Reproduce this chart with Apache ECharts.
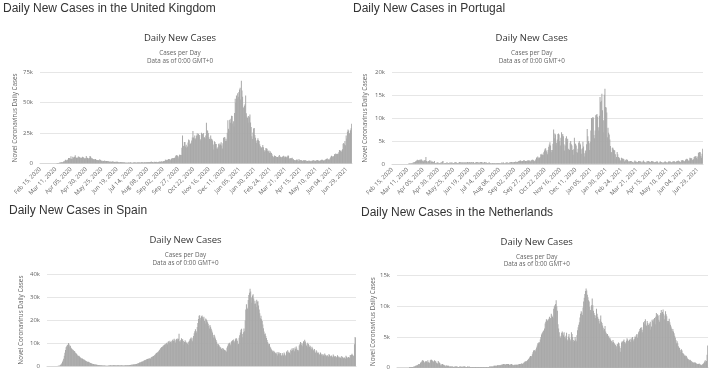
<!DOCTYPE html>
<html><head><meta charset="utf-8">
<script src="https://cdn.jsdelivr.net/npm/echarts/dist/echarts.min.js"></script>
<style>html,body{margin:0;padding:0;background:#fff}#c{width:713px;height:371px}</style>
</head><body><div id="c"></div>
<script>
// Daily new cases, in thousands, one value per day starting Feb 15, 2020
const ukCasesK = [
0,0,0,0,0,0,0, 0,0,0,0,0,0,0, 0,0,0,0.1,0.1,0.1,0.1, 0.1,0.1,0.1,0.1,0.1,0.1,0.2,
0.3,0.2,0.3,0.4,0.7,0.6,0.7, 1.0,0.7,1.0,1.4,1.5,2.1,2.9, 2.5,2.4,3.0,3.0,4.3,4.2,4.4, 3.7,5.9,3.8,3.6,5.5,4.3,5.2,
5.3,6.6,4.9,4.3,4.6,4.6,5.6, 5.5,5.0,4.7,4.3,4.5,4.6,5.4, 4.9,4.5,3.9,4.2,4.1,6.0,4.8, 4.3,4.0,3.9,4.4,6.1,5.6,4.6,
3.9,3.9,3.4,3.4,3.2,3.4,3.5, 3.0,2.7,2.7,2.4,2.5,2.6,3.3, 2.8,2.4,2.0,1.6,2.0,1.9,1.9, 2.4,1.9,1.6,1.9,1.9,1.8,1.6,
1.5,1.3,1.2,1.4,1.0,1.5,1.4, 1.5,1.0,1.1,1.3,1.1,1.2,1.3, 1.3,1.0,0.9,0.9,0.7,1.1,1.0, 0.9,0.8,0.7,0.8,0.8,0.6,0.5,
0.6,0.5,0.4,0.6,0.6,0.5,0.6, 0.8,0.6,0.5,0.5,0.5,0.6,0.7, 0.8,0.7,0.6,0.4,0.6,0.8,0.7, 0.8,0.7,0.6,0.6,0.8,0.8,0.9,
0.7,0.7,0.9,0.7,0.9,0.9,0.9, 0.8,1.1,0.9,0.9,1.1,1.0,1.4, 1.1,1.0,0.7,0.8,1.2,1.0,1.1, 1.3,1.1,0.9,0.8,1.0,1.5,1.3,
1.1,1.7,1.4,1.3,1.5,1.7,1.9, 1.8,3.0,2.9,2.5,2.7,3.0,3.5, 3.5,3.3,2.6,3.1,4.0,3.4,4.3, 4.4,3.9,4.4,4.9,6.2,6.6,6.9,
6.0,5.7,4.0,7.1,7.1,6.9,6.9, 12.9,22.9,14.5,14.2,17.5,17.5,13.9, 15.2,12.9,13.9,17.2,19.7,18.9,15.7, 16.2,16.9,18.8,21.3,26.7,21.2,20.5,
23.0,19.8,20.9,22.9,24.7,23.1,24.4, 21.9,23.3,18.9,20.0,25.2,24.1,24.0, 24.9,21.0,21.4,20.4,22.9,33.5,27.3, 26.9,24.9,21.4,20.1,19.6,22.9,20.3,
19.9,18.7,15.5,11.3,18.2,17.6,16.0, 15.9,12.3,12.3,13.4,16.2,14.9,16.3, 15.5,17.3,14.7,12.3,16.6,20.9,21.6, 21.5,18.4,20.3,18.5,25.2,35.4,28.5,
27.1,35.9,33.4,36.8,39.2,39.0,32.7, 34.7,30.5,41.4,53.1,50.0,55.9,53.3, 57.7,54.9,58.8,60.9,62.3,52.6,68.1, 59.9,54.9,46.2,45.5,47.5,48.7,55.8,
41.3,38.6,37.5,33.4,38.9,37.9,40.3, 33.6,30.0,22.2,20.1,25.3,28.7,29.1, 23.3,21.1,18.6,16.8,19.2,20.6,19.1, 18.3,15.8,14.1,12.4,13.0,13.5,15.1,
13.3,10.9,9.8,10.6,12.7,12.1,12.0, 10.4,9.8,10.6,8.5,9.9,9.0,8.5, 7.4,6.0,5.5,4.7,6.4,6.0,6.1, 5.2,5.2,5.1,4.7,5.8,6.8,5.5,
5.5,4.6,5.1,5.3,5.8,6.3,4.8, 5.6,5.3,5.4,4.7,5.6,6.4,6.2, 3.9,3.9,4.1,4.1,4.1,4.5,3.4, 3.4,2.3,2.8,2.4,2.6,3.0,3.2,
2.6,1.7,3.6,2.5,2.6,2.7,2.6, 2.2,1.9,2.5,2.5,2.4,2.7,2.3, 2.0,1.7,1.9,2.1,2.2,2.2,2.0, 1.6,1.6,2.0,2.1,2.6,2.5,2.0,
2.0,1.8,2.4,2.5,2.7,2.6,2.2, 2.0,1.9,2.4,2.7,2.9,3.0,2.7, 2.2,2.4,2.5,3.2,3.2,3.5,4.2, 3.4,3.2,3.2,3.2,4.3,5.3,6.2,
5.8,5.3,5.7,6.0,7.5,7.4,8.1, 7.7,7.5,7.8,7.6,9.1,11.0,10.5, 10.3,9.3,10.6,11.6,16.1,16.7,15.8, 18.3,14.9,22.9,20.5,26.1,27.9,27.1,
24.9,24.2,27.3,28.8,32.5
];
const portugalCasesK = [
0,0,0,0,0,0,0, 0,0,0,0,0,0,0, 0,0,0,0,0,0,0, 0,0,0,0,0,0,0.1,
0.1,0.1,0.1,0.1,0.2,0.1,0.3, 0.3,0.4,0.3,0.5,0.6,0.7,0.9, 0.7,0.8,0.8,0.9,0.8,1.0,0.9, 0.6,0.7,0.5,0.7,0.8,0.8,1.5,
0.6,0.5,0.3,0.6,0.5,0.8,0.2, 0.7,0.5,0.4,0.5,0.4,0.4,0.6, 0.2,0.2,0.2,0.3,0.3,0.3,0.2, 0.2,0.1,0.2,0.4,0.2,0.5,0.6,
0.1,0.2,0.2,0.2,0.2,0.3,0.3, 0.2,0.2,0.2,0.3,0.3,0.2,0.3, 0.3,0.2,0.2,0.2,0.3,0.4,0.3, 0.3,0.2,0.2,0.2,0.3,0.4,0.4,
0.3,0.3,0.3,0.3,0.3,0.3,0.3, 0.3,0.3,0.3,0.3,0.4,0.3,0.3, 0.4,0.3,0.3,0.3,0.4,0.3,0.3, 0.4,0.2,0.2,0.3,0.3,0.4,0.4,
0.3,0.3,0.2,0.3,0.4,0.4,0.4, 0.3,0.3,0.2,0.3,0.4,0.3,0.3, 0.3,0.2,0.2,0.2,0.3,0.3,0.2, 0.2,0.1,0.2,0.2,0.2,0.2,0.2,
0.2,0.1,0.2,0.2,0.2,0.2,0.2, 0.2,0.2,0.1,0.2,0.3,0.2,0.3, 0.3,0.2,0.1,0.2,0.3,0.3,0.3, 0.3,0.2,0.2,0.3,0.4,0.3,0.4,
0.4,0.3,0.3,0.4,0.4,0.4,0.5, 0.4,0.3,0.4,0.5,0.6,0.6,0.7, 0.7,0.5,0.6,0.6,0.6,0.8,0.8, 0.6,0.6,0.6,0.6,0.7,0.7,0.7,
0.8,0.6,0.5,0.7,0.8,0.9,0.9, 0.8,0.4,0.6,0.8,1.0,1.4,1.2, 1.6,1.4,1.0,1.3,1.5,2.1,2.0, 2.2,1.9,1.9,2.5,2.9,3.3,3.4,
2.9,2.5,2.1,3.0,3.7,4.2,4.7, 4.0,3.0,2.5,3.0,4.4,7.5,5.6, 6.6,6.4,4.0,4.6,5.3,6.5,6.6, 6.4,5.0,4.0,5.7,6.9,6.2,6.5,
6.0,4.3,2.9,4.0,5.6,6.0,5.0, 5.5,3.3,3.1,3.0,4.6,5.0,4.3, 4.0,3.0,2.0,3.2,5.7,4.4,4.4, 4.0,2.6,2.4,3.3,4.6,5.0,4.5,
4.2,3.2,2.2,3.4,4.8,3.8,2.3, 1.6,2.9,2.4,4.3,7.6,6.0,5.0, 4.5,3.0,4.8,7.3,10.0,9.9,10.2, 10.1,6.3,5.6,7.3,10.6,10.7,10.9,
10.3,8.0,7.3,10.5,14.6,13.5,13.8, 15.3,11.7,6.9,9.5,15.1,16.4,12.4, 12.3,11.2,5.8,7.9,6.8,6.4,5.3, 3.9,2.6,2.5,3.5,3.5,3.1,3.0,
2.9,2.1,1.1,1.5,2.6,2.1,1.5, 1.4,1.2,0.7,0.7,1.3,1.2,1.1, 1.1,1.0,0.5,0.7,0.8,1.0,0.8, 0.9,0.6,0.4,0.5,0.6,0.6,0.6,
0.5,0.4,0.3,0.3,0.5,0.7,0.5, 0.5,0.4,0.4,0.3,0.6,0.5,0.6, 0.5,0.5,0.3,0.3,0.5,0.7,0.5, 0.4,0.3,0.3,0.3,0.6,0.5,0.6,
0.6,0.4,0.3,0.4,0.6,0.6,0.5, 0.5,0.4,0.3,0.4,0.4,0.5,0.5, 0.5,0.3,0.2,0.3,0.5,0.5,0.4, 0.4,0.3,0.2,0.3,0.4,0.5,0.5,
0.4,0.3,0.3,0.3,0.5,0.5,0.5, 0.5,0.4,0.3,0.4,0.5,0.5,0.6, 0.5,0.4,0.3,0.5,0.6,0.6,0.7, 0.6,0.5,0.3,0.4,0.7,0.8,0.8,
0.8,0.6,0.5,0.6,0.9,1.0,1.1, 1.0,0.8,0.6,0.7,1.3,1.2,1.2, 1.2,0.9,0.8,1.0,1.5,1.6,1.6, 1.7,1.3,1.0,1.6,2.4,2.4,2.6,
2.5,1.7,1.3,2.2,3.3
];
const spainCasesK = [
0,0,0,0,0,0,0, 0,0,0,0,0,0,0, 0,0,0,0,0.1,0.1,0.1, 0.3,0.5,0.8,1.2,1.8,2.4,3.1,
4.5,5.8,7.0,8.2,8.6,9.2,9.0, 10.0,9.4,8.5,8.8,7.9,7.6,7.3, 7.1,6.8,6.2,6.5,5.9,5.6,5.3, 5.0,4.6,4.3,4.5,4.1,3.8,3.6,
3.3,3.4,3.1,2.9,2.8,2.7,2.5, 2.3,2.2,2.0,1.9,1.7,1.8,1.6, 1.4,1.3,1.2,1.1,1.0,0.9,0.9, 0.8,0.7,0.6,0.6,0.5,0.5,0.4,
0.4,0.4,0.3,0.3,0.3,0.3,0.2, 0.2,0.2,0.2,0.2,0.2,0.1,0.1, 0.1,0.1,0.1,0.2,0.2,0.3,0.3, 0.3,0.2,0.2,0.3,0.3,0.3,0.3,
0.3,0.2,0.2,0.3,0.3,0.3,0.3, 0.2,0.2,0.3,0.3,0.3,0.2,0.2, 0.2,0.2,0.3,0.3,0.3,0.3,0.3, 0.3,0.3,0.4,0.4,0.4,0.5,0.5,
0.5,0.6,0.7,0.6,0.8,0.8,0.9, 0.9,1.0,1.1,1.2,1.3,1.5,1.5, 1.6,1.8,1.9,2.0,2.1,2.3,2.5, 2.4,2.6,2.8,2.9,3.0,3.1,3.2,
3.3,3.4,3.2,3.7,3.9,4.1,4.0, 4.3,4.5,4.8,5.1,5.4,5.6,5.9, 6.0,6.3,6.6,7.0,7.4,7.8,8.1, 8.3,8.5,8.8,9.0,9.3,9.1,9.6,
9.9,10.1,9.5,10.5,10.8,10.2,11.0, 10.4,9.8,10.8,11.2,11.5,10.9,11.8, 11.1,10.2,11.4,11.7,12.0,11.2,11.9, 14.0,10.8,10.6,11.3,12.1,11.5,11.6,
10.9,9.4,10.4,11.2,10.6,10.0,10.3, 9.7,9.1,10.5,11.0,11.6,12.0,12.4, 11.5,10.8,12.3,13.0,14.2,15.1,16.0, 15.2,14.6,17.0,18.7,20.4,21.8,22.1,
21.0,19.8,21.6,22.0,21.3,20.7,21.4, 19.6,18.5,20.6,20.2,19.8,19.0,18.4, 17.4,16.3,17.8,17.1,16.2,15.4,14.6, 13.5,12.4,13.6,12.8,12.0,11.3,10.5,
9.6,8.7,9.5,9.0,8.5,8.2,7.9, 7.4,6.9,7.8,7.5,7.2,7.0,6.8, 6.5,6.2,7.9,8.6,9.3,9.8,10.1, 9.6,9.0,10.4,10.9,11.2,10.6,11.5,
10.8,9.9,11.6,12.2,11.8,11.0,9.4, 9.6,12.3,13.4,14.6,15.8,16.2,13.9, 12.5,14.7,16.3,15.1,19.8,24.6,26.9, 25.3,24.8,28.7,30.9,31.8,33.6,32.4,
29.8,27.5,30.6,31.2,29.4,27.1,28.4, 27.2,25.6,28.8,27.9,28.2,26.3,24.6, 22.9,20.8,21.9,20.3,19.6,18.0,16.4, 15.0,13.8,14.1,13.0,12.2,11.3,10.4,
9.7,8.9,9.6,8.4,7.9,7.3,7.0, 6.4,5.9,6.6,6.2,5.8,5.5,5.9, 5.2,4.6,6.1,5.4,5.9,5.1,5.6, 4.8,4.3,5.7,5.0,4.6,5.9,5.4,
4.7,4.2,6.3,5.5,6.8,5.9,6.2, 5.6,5.0,7.1,6.5,7.6,6.9,7.8, 7.2,6.4,8.0,7.4,8.5,7.6,7.0, 6.2,6.8,8.9,9.5,10.4,10.1,9.2,
8.6,9.8,10.8,10.2,11.4,10.6,9.7, 8.9,8.2,10.1,9.6,9.0,8.3,8.8, 8.0,7.3,8.4,7.7,7.1,6.6,7.4, 6.2,5.6,6.9,6.3,5.8,5.4,5.9,
5.1,4.8,5.9,5.3,4.9,4.6,5.2, 4.7,4.3,5.4,4.9,4.5,4.2,4.8, 4.4,4.0,5.2,4.8,4.3,4.0,4.6, 4.1,3.8,5.0,4.5,4.1,3.8,4.3,
3.9,3.5,4.7,4.2,3.8,3.6,4.0, 3.6,3.3,4.4,3.9,3.6,3.4,3.8, 3.5,3.1,4.5,4.0,3.7,3.4,3.9, 3.7,3.6,4.8,4.6,4.9,5.3,4.8,
4.5,4.2,9.5,12.6,12.3
];
const netherlandsCasesK = [
0,0,0,0,0,0,0, 0,0,0,0,0,0,0, 0,0,0,0,0,0,0.1, 0.1,0.1,0.1,0.1,0.1,0.1,0.2,
0.2,0.2,0.3,0.3,0.4,0.4,0.5, 0.6,0.6,0.5,0.8,0.9,1.0,1.2, 1.2,1.1,0.9,0.8,1.0,1.1,1.0, 0.9,1.2,0.9,0.8,0.8,1.2,1.3,
1.3,1.2,1.1,1.0,0.9,1.2,1.1, 1.0,0.8,0.7,0.7,1.1,0.9,0.8, 0.7,0.4,0.4,0.6,0.6,0.5,0.5, 0.4,0.3,0.2,0.4,0.3,0.3,0.3,
0.3,0.2,0.2,0.2,0.2,0.2,0.2, 0.2,0.1,0.1,0.2,0.2,0.2,0.2, 0.2,0.1,0.1,0.1,0.2,0.2,0.2, 0.1,0.2,0.1,0.2,0.2,0.2,0.2,
0.1,0.1,0.1,0.2,0.2,0.1,0.2, 0.1,0.1,0.1,0.1,0.1,0.1,0.1, 0.1,0.1,0.1,0.1,0.1,0.1,0.1, 0.1,0.1,0.1,0.1,0.1,0.1,0.1,
0.1,0.1,0.1,0.1,0.1,0.1,0.1, 0.1,0.1,0.1,0.1,0.2,0.2,0.2, 0.2,0.2,0.2,0.2,0.3,0.3,0.3, 0.3,0.3,0.3,0.4,0.4,0.4,0.4,
0.4,0.4,0.5,0.5,0.5,0.6,0.6, 0.6,0.5,0.5,0.6,0.6,0.6,0.6, 0.6,0.5,0.5,0.5,0.6,0.6,0.5, 0.5,0.4,0.4,0.5,0.5,0.5,0.5,
0.5,0.5,0.5,0.6,0.6,0.6,0.6, 0.7,0.7,0.6,0.7,0.8,0.9,1.0, 1.0,1.1,1.0,1.2,1.3,1.4,1.6, 1.8,1.9,1.7,1.9,2.2,2.5,2.8,
2.8,2.9,2.7,3.0,3.3,3.6,4.0, 4.0,4.2,4.1,4.6,5.0,5.4,5.6, 5.8,6.0,6.1,6.4,7.2,7.5,7.9, 7.8,7.6,7.8,8.0,8.3,8.0,8.1,
8.8,8.5,8.3,8.1,9.6,10.0,10.2, 10.4,11.0,10.0,9.3,7.1,6.4,5.8, 5.1,4.9,5.2,5.7,5.9,5.6,5.3, 5.8,5.0,4.8,5.2,5.7,4.6,4.4,
5.1,5.5,4.9,4.6,4.3,5.8,5.5, 5.0,4.5,4.2,4.4,5.0,4.6,4.3, 5.3,6.1,6.6,7.0,7.4,8.2,8.8, 9.2,9.0,8.6,9.8,10.8,11.4,12.0,
12.5,12.9,12.6,11.9,11.5,11.0,10.8, 9.9,9.4,9.0,10.2,11.3,10.2,9.3, 8.9,8.6,8.1,8.5,9.6,8.8,8.3, 8.0,7.6,7.2,7.9,8.5,7.5,7.3,
6.9,6.5,6.1,6.3,6.8,5.9,5.6, 5.4,5.5,5.0,5.2,4.8,4.9,4.6, 4.4,4.3,4.1,4.5,4.2,4.0,3.9, 3.7,3.0,3.5,3.9,3.8,4.1,4.0,
3.5,2.6,3.2,4.1,4.3,4.2,4.4, 4.6,4.2,3.9,4.1,4.4,4.8,4.6, 4.3,4.4,4.5,4.7,4.2,4.6,4.9, 5.0,4.6,4.3,4.7,5.1,5.0,5.3,
5.5,4.9,5.4,5.8,6.0,6.3,6.5, 6.2,6.6,5.8,6.2,7.4,7.1,7.6, 7.9,7.0,6.8,7.6,7.3,7.0,6.7, 7.2,7.5,6.2,6.7,7.8,7.6,7.9,
7.4,8.1,7.1,8.3,8.9,8.4,8.7, 8.5,7.8,7.5,8.6,8.9,9.4,8.8, 9.1,9.5,8.8,7.9,8.5,9.2,8.7, 8.4,7.6,7.2,7.6,8.0,7.4,7.0,
6.7,6.4,6.0,6.3,5.9,5.6,5.2, 4.9,4.5,4.0,4.3,4.0,3.5,3.3, 3.2,2.9,2.6,3.0,2.8,2.4,2.3, 2.2,2.0,1.8,2.0,1.9,1.7,1.5,
1.4,1.3,1.2,1.3,1.2,1.1,1.0, 0.9,0.9,0.8,0.8,0.9,0.8,0.7, 0.7,0.6,0.6,0.6,0.7,0.6,0.5, 0.5,0.4,0.5,0.6,0.7,0.8,1.0,
1.2,0.9,1.1,2.1,3.6
];
const countryNames = ['the United Kingdom', 'Portugal', 'Spain', 'the Netherlands'];
const yMaxK = [75, 20, 40, 15];
const yStepK = [25, 5, 10, 5];
const monthNames = ['Jan','Feb','Mar','Apr','May','Jun','Jul','Aug','Sep','Oct','Nov','Dec'];

const dayCount = ukCasesK.length;
const categories = [];
for (let i = 0; i < dayCount; i++) {
  const d = new Date(Date.UTC(2020, 1, 15 + i));
  categories.push(monthNames[d.getUTCMonth()] + ' ' + String(d.getUTCDate()).padStart(2, '0') + ', ' + d.getUTCFullYear());
}
const seriesData = [ukCasesK, portugalCasesK, spainCasesK, netherlandsCasesK];

// layout per panel
const layout = [
  {bigX: 3,   bigY: 2.5, cx: 180,   tY: 33.3,  sY: 49.5,  grid: {left: 40,  top: 72.3, width: 312, height: 91}, nameGap: 22, showX: true},
  {bigX: 353, bigY: 2.5, cx: 531.7, tY: 33.3,  sY: 49.5,  grid: {left: 392, top: 72.3, width: 311, height: 91.5}, nameGap: 24, showX: true},
  {bigX: 9,   bigY: 204.5, cx: 185.5, tY: 234.8, sY: 251.2, grid: {left: 47,  top: 274, width: 309, height: 92}, nameGap: 23, showX: false},
  {bigX: 361, bigY: 206.5, cx: 536.7, tY: 237.3, sY: 252.9, grid: {left: 397, top: 275.7, width: 311, height: 92}, nameGap: 18, showX: false}
];

const titles = [], grids = [], xAxes = [], yAxes = [], series = [];
layout.forEach((p, i) => {
  titles.push({text: 'Daily New Cases in ' + countryNames[i], left: p.bigX, top: p.bigY, padding: 0,
    textStyle: {fontFamily: 'Liberation Sans', fontSize: 12, fontWeight: 'normal', color: '#333'}});
  titles.push({text: 'Daily New Cases', left: p.cx, top: p.tY, padding: 0, textAlign: 'center',
    textStyle: {fontFamily: 'Open Sans', fontSize: 9.5, fontWeight: 'normal', color: '#333'}});
  titles.push({text: 'Cases per Day\nData as of 0:00 GMT+0', left: p.cx, top: p.sY, padding: 0, textAlign: 'center',
    textStyle: {fontFamily: 'Open Sans', fontSize: 6.3, lineHeight: 7.7, fontWeight: 'normal', color: '#666'}});
  grids.push(p.grid);
  xAxes.push({type: 'category', gridIndex: i, data: categories, boundaryGap: true,
    axisLine: {show: true, lineStyle: {color: '#d9d9d9', width: 1}},
    axisTick: {show: false},
    axisLabel: {show: p.showX, interval: 24, rotate: 45, margin: 5, fontSize: 6, color: '#666', fontFamily: 'Open Sans', hideOverlap: false}});
  yAxes.push({type: 'value', gridIndex: i, min: 0, max: yMaxK[i], interval: yStepK[i],
    name: 'Novel Coronavirus Daily Cases', nameLocation: 'middle', nameRotate: 90, nameGap: p.nameGap,
    nameTextStyle: {fontFamily: 'Open Sans', fontSize: 6.3, color: '#666'},
    axisLine: {show: false}, axisTick: {show: false},
    axisLabel: {margin: 7, fontSize: 6, color: '#666', fontFamily: 'Open Sans', formatter: v => v === 0 ? '0' : v + 'k'},
    splitLine: {lineStyle: {color: '#e6e6e6', width: 1}}});
  series.push({type: 'bar', name: 'Daily Cases', xAxisIndex: i, yAxisIndex: i, data: seriesData[i],
    barCategoryGap: '35%', itemStyle: {color: '#a8a8a8'}, emphasis: {disabled: true}});
});

const chart = echarts.init(document.getElementById('c'), null, {renderer: 'canvas'});
chart.setOption({animation: false, backgroundColor: '#fff', title: titles, grid: grids, xAxis: xAxes, yAxis: yAxes, series: series});
</script>
</body></html>
